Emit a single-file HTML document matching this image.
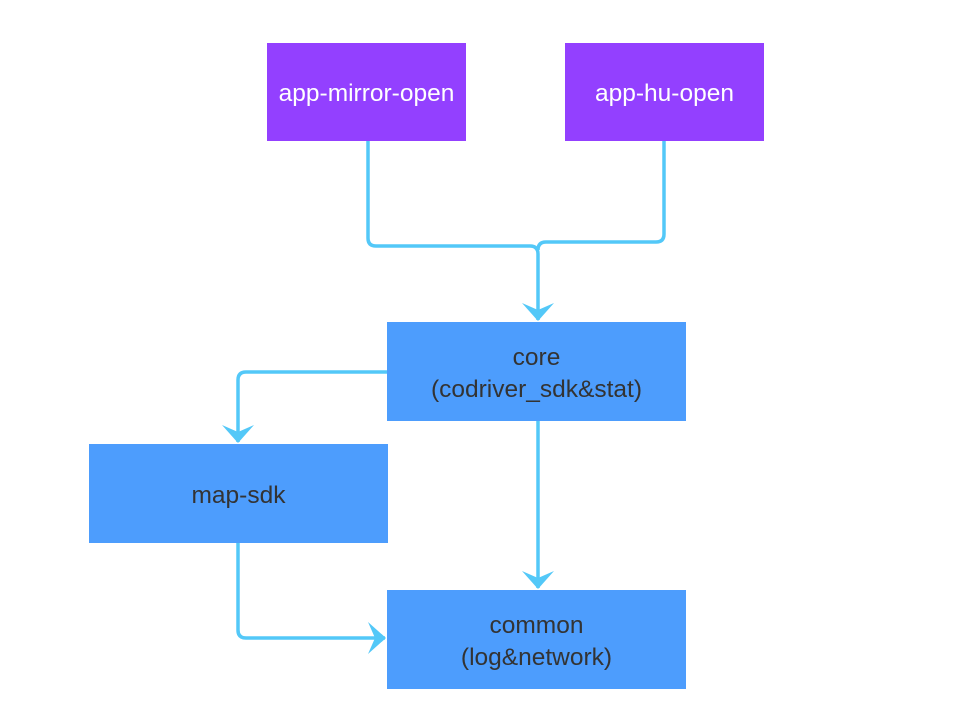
<!DOCTYPE html>
<html><head><style>
body{margin:0;background:#fff;}
.b{position:absolute;display:flex;align-items:center;justify-content:center;text-align:center;font-family:"Liberation Sans",sans-serif;font-size:24.5px;line-height:32px;padding-top:4px;box-sizing:border-box;}
.p{background:#9340ff;color:#fff;}
.c{background:#4d9dfd;color:#333;}
</style></head><body>
<div style="position:relative;width:972px;height:714px;overflow:hidden">
<svg width="972" height="714" style="position:absolute;left:0;top:0">
<defs><marker id="a" markerWidth="18" markerHeight="32" refX="17" refY="16" orient="auto" markerUnits="userSpaceOnUse" viewBox="0 0 18 32">
<path d="M0,0 L18,16 L0,32 L7,16 Z" fill="#53c8f8"/></marker></defs>
<g fill="none" stroke="#53c8f8" stroke-width="3.5">
<path d="M368,141 V238 Q368,246 376,246 H530 Q538,246 538,254 V320" marker-end="url(#a)"/>
<path d="M664,141 V234 Q664,242 656,242 H546 Q538,242 538,250"/>
<path d="M387,372 H246 Q238,372 238,380 V442" marker-end="url(#a)"/>
<path d="M538,421 V588" marker-end="url(#a)"/>
<path d="M238,543 V630 Q238,638 246,638 H385" marker-end="url(#a)"/>
</g></svg>
<div class="b p" style="left:267px;top:43px;width:199px;height:98px">app-mirror-open</div>
<div class="b p" style="left:565px;top:43px;width:199px;height:98px">app-hu-open</div>
<div class="b c" style="left:387px;top:322px;width:299px;height:99px">core<br>(codriver_sdk&amp;stat)</div>
<div class="b c" style="left:89px;top:444px;width:299px;height:99px">map-sdk</div>
<div class="b c" style="left:387px;top:590px;width:299px;height:99px">common<br>(log&amp;network)</div>
</div>
</body></html>
